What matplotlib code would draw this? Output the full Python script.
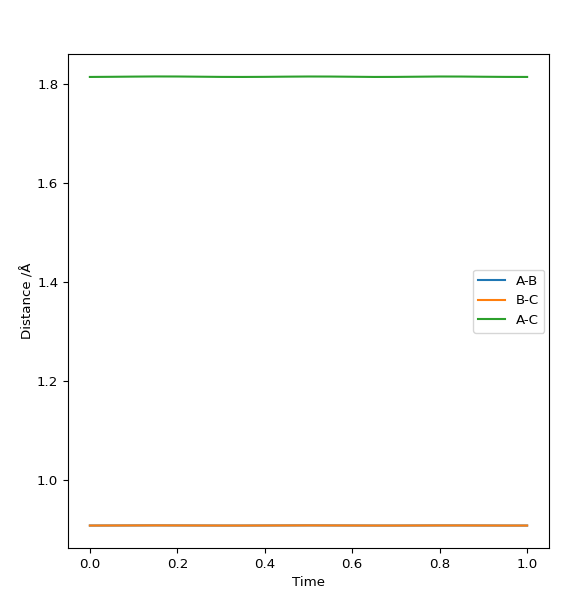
import matplotlib
matplotlib.use("Agg")
import matplotlib.pyplot as plt

time = [0.0, 0.05, 0.1, 0.15, 0.2, 0.25, 0.3, 0.35, 0.4, 0.45, 0.5,
        0.55, 0.6, 0.65, 0.7, 0.75, 0.8, 0.85, 0.9, 0.95, 1.0]
ab = [0.9084, 0.9085, 0.9086, 0.9087, 0.9086, 0.9085, 0.9084, 0.9084, 0.9085, 0.9086, 0.9087,
      0.9086, 0.9085, 0.9084, 0.9084, 0.9085, 0.9086, 0.9086, 0.9085, 0.9084, 0.9084]
bc = [0.9084, 0.9085, 0.9086, 0.9087, 0.9086, 0.9085, 0.9084, 0.9084, 0.9085, 0.9086, 0.9087,
      0.9086, 0.9085, 0.9084, 0.9084, 0.9085, 0.9086, 0.9086, 0.9085, 0.9084, 0.9084]
ac = [1.8150, 1.8153, 1.8157, 1.8160, 1.8159, 1.8155, 1.8151, 1.8150, 1.8152, 1.8156, 1.8159,
      1.8158, 1.8154, 1.8150, 1.8151, 1.8155, 1.8159, 1.8158, 1.8154, 1.8151, 1.8150]

plt.rcParams['font.size'] = 9.6

fig = plt.figure(figsize=(5.87, 6.0), dpi=100)
ax = fig.add_axes([68/587, 1-548/600, (549-68)/587, (548-54)/600])
ax.plot(time, ab, label="A-B")
ax.plot(time, bc, label="B-C")
ax.plot(time, ac, label="A-C")
ax.set_xlabel("Time")
ax.set_ylabel("Distance /Å", labelpad=2)
ax.legend(loc="center right", borderaxespad=0.35)
fig.savefig("out.png", dpi=100)
